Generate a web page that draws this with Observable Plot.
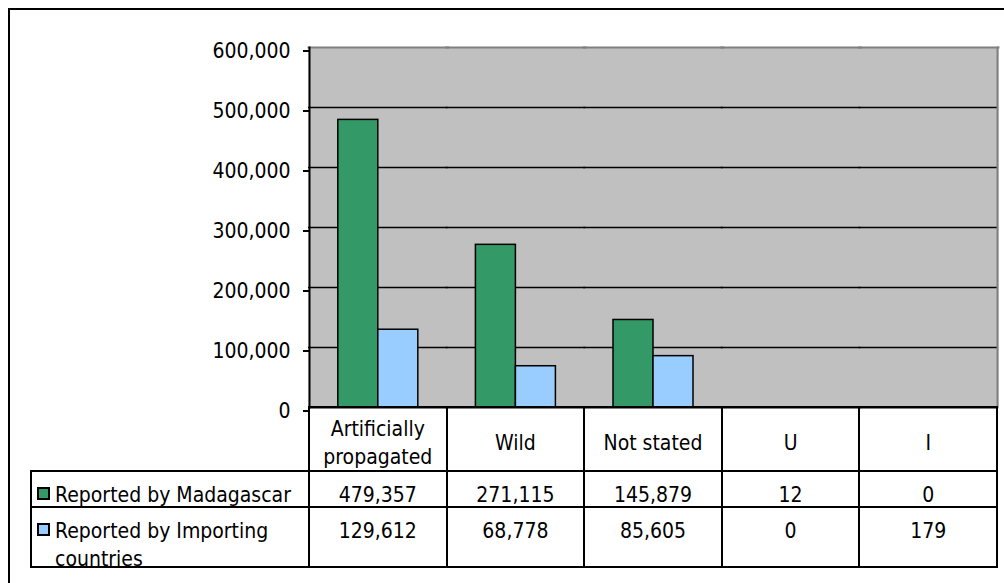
<!DOCTYPE html>
<html><head><meta charset="utf-8">
<script src="https://cdn.jsdelivr.net/npm/d3@7"></script>
<script src="https://cdn.jsdelivr.net/npm/@observablehq/plot@0.6"></script>
<style>
html,body{margin:0;padding:0;background:#fff;}
#wrap{position:relative;width:1004px;height:583px;overflow:hidden;font-family:"DejaVu Sans Condensed","DejaVu Sans",sans-serif;font-stretch:condensed;font-size:21px;color:#000;}
#outer{position:absolute;left:8px;top:8px;width:1100px;height:700px;border:2px solid #000;box-sizing:border-box;}
#chart{position:absolute;left:0;top:0;}
#chart svg text{font-size:21px;}
.cell{position:absolute;box-sizing:border-box;border:2px solid #000;}
.txt{position:absolute;line-height:28px;white-space:nowrap;}
.ctr{text-align:center;}
.sw{position:absolute;width:13px;height:13px;box-sizing:border-box;border:2px solid #000;}
</style></head><body><div id="wrap"><div id="outer"></div><div id="chart"></div><div id="table"></div></div>
<script>
const categories = ["Artificially propagated", "Wild", "Not stated", "U", "I"];
const categoryLabels = [["Artificially", "propagated"], ["Wild"], ["Not stated"], ["U"], ["I"]];
const seriesNames = ["Reported by Madagascar", "Reported by Importing countries"];
const seriesLabels = [["Reported by Madagascar"], ["Reported by Importing", "countries"]];
const madagascar = [479357, 271115, 145879, 12, 0];
const importing = [129612, 68778, 85605, 0, 179];
const yTicks = [0, 100000, 200000, 300000, 400000, 500000, 600000];
const colors = ["#339966", "#99CCFF"];

const seriesValues = [madagascar, importing];
const rows = categories.flatMap((c, i) => seriesNames.map((s, j) => ({category: c, series: s, value: seriesValues[j][i]})));
const FONT = '"DejaVu Sans Condensed","DejaVu Sans",sans-serif';
const fmt = d3.format(",");

const chart = Plot.plot({
  width: 1004, height: 410,
  marginLeft: 309, marginRight: 7, marginTop: 47, marginBottom: 3,
  style: {fontFamily: FONT, fontSize: "21px", color: "#000", background: "transparent", overflow: "visible"},
  fx: {domain: categories, padding: 0, round: false, axis: null, label: null},
  x: {domain: seriesNames, paddingInner: 0, paddingOuter: 0.72, round: false, axis: null, label: null},
  y: {domain: [0, 600000], axis: null, label: null},
  color: {domain: seriesNames, range: colors},
  marks: [
    Plot.frame({fill: "#c0c0c0", stroke: "none", insetLeft: -1, insetRight: -1}),
    Plot.ruleY(yTicks.filter(t => t > 0 && t < 600000), {stroke: "#000", strokeWidth: 1.5, insetLeft: -1, insetRight: -1}),
    Plot.frame({anchor: "top", stroke: "#808080", strokeWidth: 2, insetLeft: -1, insetRight: -1}),
    Plot.frame({anchor: "right", fx: categories[categories.length - 1], stroke: "#808080", strokeWidth: 2}),
    Plot.barY(rows, {fx: "category", x: "series", y: "value", fill: "series", stroke: "#000", strokeWidth: 1.5}),
    Plot.ruleY([0], {stroke: "#000", strokeWidth: 2, insetLeft: -1, insetRight: -1}),
    Plot.frame({anchor: "left", fx: categories[0], stroke: "#000", strokeWidth: 2}),
    Plot.axisY({ticks: yTicks, tickFormat: fmt, tickSize: 6, tickPadding: 13, strokeWidth: 2, dy: 3.5, fontSize: 21, label: null})
  ]
});
document.getElementById("chart").appendChild(chart);

// Data table below the chart, columns taken from the chart's fx scale
const fx = chart.scale("fx");
const table = document.getElementById("table");
const yAxisBottom = chart.scale("y").apply(0);
const rowEdges = [yAxisBottom, 471, 507, 567];
const labelLeft = 31;
function cell(x0, y0, x1, y1) {
  const d = document.createElement("div");
  d.className = "cell";
  Object.assign(d.style, {left: (x0 - 1) + "px", top: (y0 - 1) + "px", width: (x1 - x0 + 2) + "px", height: (y1 - y0 + 2) + "px"});
  table.appendChild(d);
}
function text(lines, x0, x1, top, center) {
  const d = document.createElement("div");
  d.className = "txt" + (center ? " ctr" : "");
  Object.assign(d.style, {left: x0 + "px", width: (x1 - x0) + "px", top: top + "px"});
  d.innerHTML = lines.join("<br>");
  table.appendChild(d);
}
categories.forEach((c, i) => {
  const x0 = fx.apply(c), x1 = x0 + fx.bandwidth;
  for (let r = 0; r < 3; r++) cell(x0, rowEdges[r], x1, rowEdges[r + 1]);
  const lines = categoryLabels[i];
  const h = rowEdges[1] - rowEdges[0];
  text(lines, x0, x1, rowEdges[0] + (h - lines.length * 28) / 2 + 4, true);
  seriesValues.forEach((vals, j) => text([fmt(vals[i])], x0, x1, rowEdges[j + 1] + 10, true));
});
const firstLeft = fx.apply(categories[0]);
seriesNames.forEach((s, j) => {
  cell(labelLeft, rowEdges[j + 1], firstLeft, rowEdges[j + 2]);
  const sw = document.createElement("div");
  sw.className = "sw";
  Object.assign(sw.style, {left: "37px", top: (rowEdges[j + 1] + 16) + "px", background: colors[j]});
  table.appendChild(sw);
  text(seriesLabels[j], 55, firstLeft, rowEdges[j + 1] + 10, false);
});
</script></body></html>
